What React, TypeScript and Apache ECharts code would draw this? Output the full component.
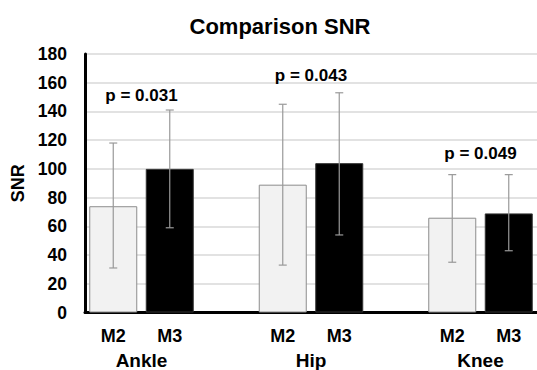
import React, { useEffect, useRef } from "react";
import * as echarts from "echarts";

const categories = ["M2", "M3", "", "M2", "M3", "", "M2", "M3"];
const groups = ["Ankle", "Hip", "Knee"];
const m2Mean = [74, 89, 66];
const m3Mean = [100, 104, 69];
const m2Low = [31, 33, 35];
const m2High = [118, 145, 96];
const m3Low = [59, 54, 43];
const m3High = [141, 153, 96];
const pLabels = ["p = 0.031", "p = 0.043", "p = 0.049"];
const pHeights = [151, 165, 111];
const yTicks = [0, 180, 20];

const FONT = "'Liberation Sans', Arial, Helvetica, sans-serif";

export default function App() {
  const ref = useRef<HTMLDivElement>(null);
  useEffect(() => {
    if (!ref.current) return;
    const chart = echarts.init(ref.current, null, { renderer: "svg" });
    const m2Data: any[] = categories.map(() => "-");
    const m3Data: any[] = categories.map(() => "-");
    const errData: any[] = [];
    groups.forEach((g, i) => {
      m2Data[i * 3] = m2Mean[i];
      m3Data[i * 3 + 1] = m3Mean[i];
      errData.push([i * 3, m2Low[i], m2High[i]]);
      errData.push([i * 3 + 1, m3Low[i], m3High[i]]);
    });
    const groupPos = groups.map((g, i) => i * 3 + 0.5);
    chart.setOption({
      animation: false,
      title: {
        text: "Comparison SNR",
        left: 275,
        textAlign: "center",
        top: 10,
        textStyle: { fontFamily: FONT, fontSize: 22, fontWeight: "bold", color: "#000" },
      },
      grid: { left: 85, top: 54, bottom: 57.5, width: 456.6 },
      xAxis: [
        {
          type: "category",
          data: categories,
          axisLine: { onZero: false, lineStyle: { color: "#000", width: 3 } },
          axisTick: { show: false },
          axisLabel: {
            interval: 0,
            margin: 14,
            fontFamily: FONT,
            fontSize: 18,
            fontWeight: "bold",
            color: "#000",
          },
        },
        {
          type: "value",
          position: "bottom",
          min: -0.5,
          max: 7.5,
          axisLine: { show: false },
          axisTick: { show: false },
          splitLine: { show: false },
          axisLabel: {
            customValues: groupPos,
            margin: 38,
            formatter: (v: number) => {
              const idx = groupPos.findIndex((p) => Math.abs(p - v) < 0.01);
              return idx >= 0 ? groups[idx] : "";
            },
            fontFamily: FONT,
            fontSize: 19,
            fontWeight: "bold",
            color: "#000",
          },
        },
      ],
      yAxis: {
        type: "value",
        min: yTicks[0],
        max: yTicks[1],
        interval: yTicks[2],
        name: "SNR",
        nameLocation: "middle",
        nameGap: 52,
        nameTextStyle: { fontFamily: FONT, fontSize: 18, fontWeight: "bold", color: "#000" },
        axisLine: { show: true, onZero: false, lineStyle: { color: "#000", width: 3 } },
        axisTick: { show: false },
        splitLine: { lineStyle: { color: "#d9d9d9", width: 1.5 } },
        axisLabel: { margin: 18, fontFamily: FONT, fontSize: 17.5, fontWeight: "bold", color: "#000" },
      },
      series: [
        {
          type: "bar",
          name: "M2",
          stack: "s",
          barWidth: 48,
          data: m2Data,
          itemStyle: { color: "#f2f2f2", borderColor: "#8c8c8c", borderWidth: 1 },
        },
        {
          type: "bar",
          name: "M3",
          stack: "s",
          barWidth: 48,
          data: m3Data,
          itemStyle: { color: "#000", borderColor: "#333", borderWidth: 1 },
        },
        {
          type: "custom",
          z: 10,
          data: errData,
          renderItem: (params: any, api: any) => {
            const x = api.value(0);
            const lo = api.coord([x, api.value(1)]);
            const hi = api.coord([x, api.value(2)]);
            const w = 4;
            const style = { stroke: "#999", lineWidth: 1.2 };
            return {
              type: "group",
              children: [
                { type: "line", shape: { x1: lo[0], y1: lo[1], x2: hi[0], y2: hi[1] }, style },
                { type: "line", shape: { x1: lo[0] - w, y1: lo[1], x2: lo[0] + w, y2: lo[1] }, style },
                { type: "line", shape: { x1: hi[0] - w, y1: hi[1], x2: hi[0] + w, y2: hi[1] }, style },
              ],
            };
          },
        },
        {
          type: "scatter",
          xAxisIndex: 1,
          z: 11,
          symbolSize: 1,
          itemStyle: { color: "rgba(0,0,0,0)" },
          data: groupPos.map((p, i) => [p, pHeights[i]]),
          label: {
            show: true,
            position: "inside",
            formatter: (p: any) => pLabels[p.dataIndex],
            fontFamily: FONT,
            fontSize: 17,
            fontWeight: "bold",
            color: "#000",
            opacity: 1,
            textBorderWidth: 0,
          },
        },
      ],
    });
    return () => chart.dispose();
  }, []);
  return (
    <div
      ref={ref}
      style={{ position: "fixed", left: 0, top: 0, width: 537, height: 370, background: "#fff" }}
    />
  );
}
